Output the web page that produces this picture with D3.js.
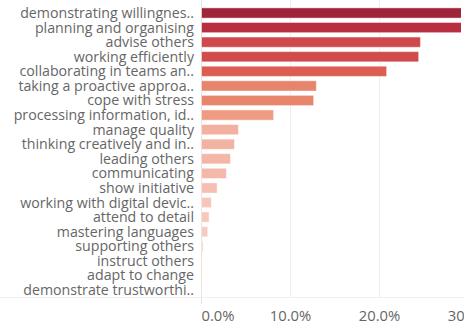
<!DOCTYPE html>
<html>
<head>
<meta charset="utf-8">
<script src="https://cdn.jsdelivr.net/npm/d3@7"></script>
<style>
  html, body { margin: 0; padding: 0; background: #fff; }
  svg { display: block; }
  text { font-family: "Open Sans", "Noto Sans", sans-serif; fill: #666666; }
</style>
</head>
<body>
<svg id="chart" width="464" height="322"></svg>
<script>
// Share of mentions per skill (percent), sorted descending
const skills = [
  "demonstrating willingnes..",
  "planning and organising",
  "advise others",
  "working efficiently",
  "collaborating in teams an..",
  "taking a proactive approa..",
  "cope with stress",
  "processing information, id..",
  "manage quality",
  "thinking creatively and in..",
  "leading others",
  "communicating",
  "show initiative",
  "working with digital devic..",
  "attend to detail",
  "mastering languages",
  "supporting others",
  "instruct others",
  "adapt to change",
  "demonstrate trustworthi.."
];
const shares = [31.0, 29.8, 24.6, 24.4, 20.8, 12.9, 12.6, 8.1, 4.15, 3.7, 3.25, 2.8, 1.75, 1.1, 0.85, 0.7, 0.17, 0.05, 0.03, 0.02];
const tickValues = [0, 10, 20, 30];

const svg = d3.select("#chart");
const W = 464, H = 322;
const plotLeft = 201.5, plotRight = 461;

const x = d3.scaleLinear().domain([0, 30]).range([plotLeft, 468.5]);
const y = d3.scaleBand().domain(skills).range([5.7, 297.3]).paddingInner(0.3).paddingOuter(0.15);

const colour = d3.scaleLinear()
  .domain([0, 1.5, 4, 8, 12.7, 20.8, 24.5, 29.8, 31])
  .range(["#fad3cb", "#f6c0b4", "#f3b1a1", "#ef9c84", "#e8846d", "#dc5d51", "#cf4a4c", "#b72f40", "#9e2539"])
  .clamp(true);

// Gridlines
svg.append("g")
  .selectAll("line")
  .data(tickValues.filter(d => d > 0))
  .join("line")
  .attr("x1", d => x(d)).attr("x2", d => x(d))
  .attr("y1", 0).attr("y2", 297.5)
  .attr("stroke", "#eeeeee").attr("stroke-width", 1);

// Zero line
svg.append("line")
  .attr("x1", x(0)).attr("x2", x(0))
  .attr("y1", 0).attr("y2", 304)
  .attr("stroke", "#e4e4e4");

// Axis rule
svg.append("line")
  .attr("x1", 0).attr("x2", W)
  .attr("y1", 297.5).attr("y2", 297.5)
  .attr("stroke", "#f0f0f0");

// Bars, clipped to the plot area
svg.append("clipPath").attr("id", "plotClip")
  .append("rect").attr("x", plotLeft).attr("y", 0).attr("width", plotRight - plotLeft).attr("height", H);

svg.append("g")
  .attr("clip-path", "url(#plotClip)")
  .selectAll("rect")
  .data(shares)
  .join("rect")
  .attr("x", x(0))
  .attr("y", (d, i) => y(skills[i]))
  .attr("width", d => x(d) - x(0))
  .attr("height", y.bandwidth())
  .attr("fill", d => colour(d))
  .attr("stroke", "#ffffff").attr("stroke-opacity", 0.45).attr("stroke-width", 1);

// Category labels
svg.append("g")
  .selectAll("text")
  .data(skills)
  .join("text")
  .attr("x", 194)
  .attr("y", d => y(d) + y.bandwidth() / 2)
  .attr("dy", "0.35em")
  .attr("text-anchor", "end")
  .attr("font-size", 14.2)
  .text(d => d);

// Value axis labels
const fmt = d3.format(".1%");
svg.append("g")
  .selectAll("text")
  .data(tickValues)
  .join("text")
  .attr("x", d => x(d))
  .attr("y", 316)
  .attr("dy", "0.35em")
  .attr("text-anchor", d => d === 0 ? "start" : "middle")
  .attr("font-size", 14.8)
  .text(d => fmt(d / 100));
</script>
</body>
</html>
